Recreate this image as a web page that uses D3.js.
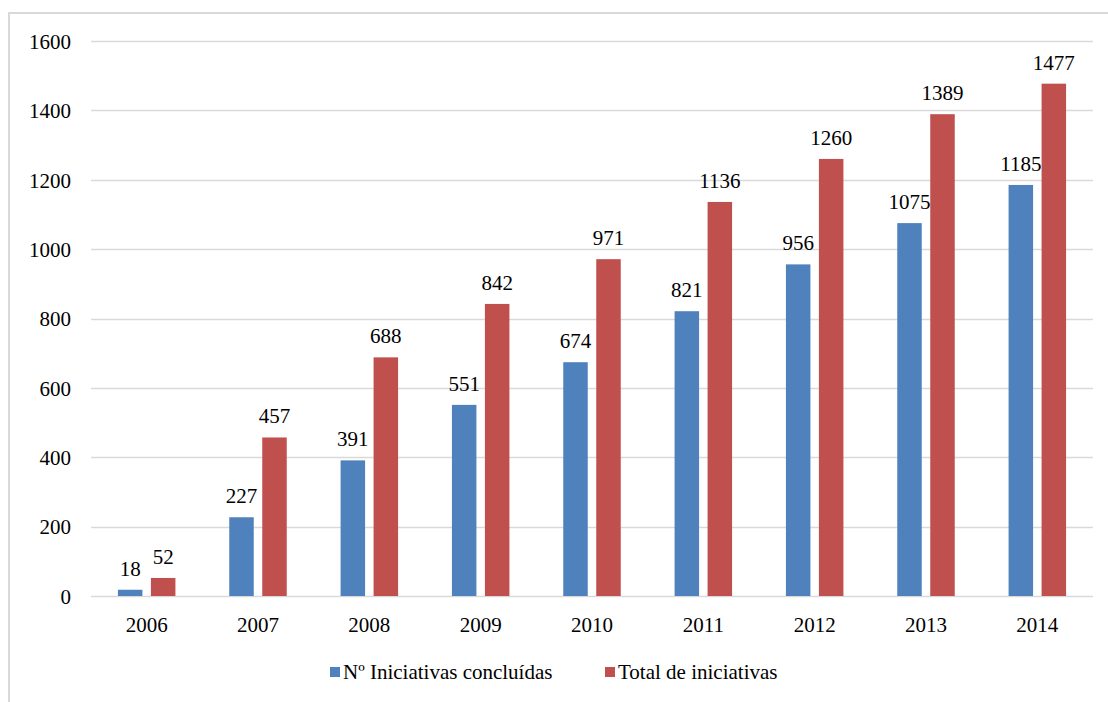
<!DOCTYPE html>
<html>
<head>
<meta charset="utf-8">
<script src="https://cdn.jsdelivr.net/npm/d3@7"></script>
<style>
  html, body { margin: 0; padding: 0; background: #fff; }
  svg { display: block; }
  svg text, svg g text { font-family: "Liberation Serif", "Times New Roman", serif !important; }
</style>
</head>
<body>
<svg id="chart" width="1108" height="702" font-family="Liberation Serif"></svg>
<script>
// Yearly counts of initiatives
const years = ["2006", "2007", "2008", "2009", "2010", "2011", "2012", "2013", "2014"];
const concluded = [18, 227, 391, 551, 674, 821, 956, 1075, 1185];
const total = [52, 457, 688, 842, 971, 1136, 1260, 1389, 1477];
const seriesNames = ["Nº Iniciativas concluídas", "Total de iniciativas"];
const seriesColors = ["#4F81BD", "#C0504D"];
const yTicks = [0, 200, 400, 600, 800, 1000, 1200, 1400, 1600];

const svg = d3.select("#chart");
const W = 1108, H = 702;
const FONT = "Liberation Serif";
const FS = "21px";

function serifText(sel) {
  sel.attr("font-family", FONT)
    .each(function () {
      this.style.setProperty("font-family", '"Liberation Serif"', "important");
      this.style.setProperty("font-size", FS, "important");
    });
}

// chart frame
svg.append("rect")
  .attr("x", 9).attr("y", 13)
  .attr("width", W + 20).attr("height", H + 20)
  .attr("fill", "none").attr("stroke", "#d9d9d9").attr("stroke-width", 2);

const plot = { left: 91, right: 1093, top: 41, bottom: 596 };

const x = d3.scaleBand().domain(years).range([plot.left, plot.right]).padding(0);
const y = d3.scaleLinear().domain([0, 1600]).range([plot.bottom, plot.top]);

// gridlines
svg.append("g").selectAll("line").data(yTicks).join("line")
  .attr("x1", plot.left).attr("x2", plot.right)
  .attr("y1", d => Math.round(y(d)) + 0.5).attr("y2", d => Math.round(y(d)) + 0.5)
  .attr("stroke", "#d9d9d9").attr("stroke-width", 1.3);

// y axis labels
const yAxis = d3.axisLeft(y).tickValues(yTicks).tickFormat(d3.format("d")).tickSize(0).tickPadding(0);
const gy = svg.append("g").attr("transform", `translate(71,0)`).call(yAxis);
gy.attr("font-family", FONT).attr("font-size", 21);
gy.select(".domain").remove();
gy.selectAll("text").attr("fill", "#000").attr("dy", "0.35em").call(serifText);

// x axis labels
const xAxis = d3.axisBottom(x).tickSize(0).tickPadding(0);
const gx = svg.append("g").attr("transform", `translate(0,${plot.bottom + 21})`).call(xAxis);
gx.attr("font-family", FONT).attr("font-size", 21);
gx.select(".domain").remove();
gx.selectAll("text").attr("fill", "#000").attr("dy", "0.71em").call(serifText);

// bars with value labels
const barW = 24.5, gap = 8.5;
const series = [concluded, total];
series.forEach((vals, si) => {
  const offset = si === 0 ? -(gap / 2 + barW) : gap / 2;
  const g = svg.append("g");
  g.selectAll("rect").data(years).join("rect")
    .attr("x", (d) => x(d) + x.bandwidth() / 2 + offset)
    .attr("y", (d, i) => y(vals[i]))
    .attr("width", barW)
    .attr("height", (d, i) => y(0) - y(vals[i]))
    .attr("fill", seriesColors[si]);
  g.selectAll("text").data(years).join("text")
    .attr("x", (d) => x(d) + x.bandwidth() / 2 + offset + barW / 2)
    .attr("y", (d, i) => y(vals[i]) - 14)
    .attr("text-anchor", "middle")
    .text((d, i) => vals[i])
    .call(serifText);
});

// legend
const legendItems = [{ x: 330, tx: 343 }, { x: 605, tx: 618 }];
legendItems.forEach((it, i) => {
  svg.append("rect").attr("x", it.x).attr("y", 667).attr("width", 10).attr("height", 10).attr("fill", seriesColors[i]);
  svg.append("text").attr("x", it.tx).attr("y", 679).text(seriesNames[i]).call(serifText);
});
</script>
</body>
</html>
